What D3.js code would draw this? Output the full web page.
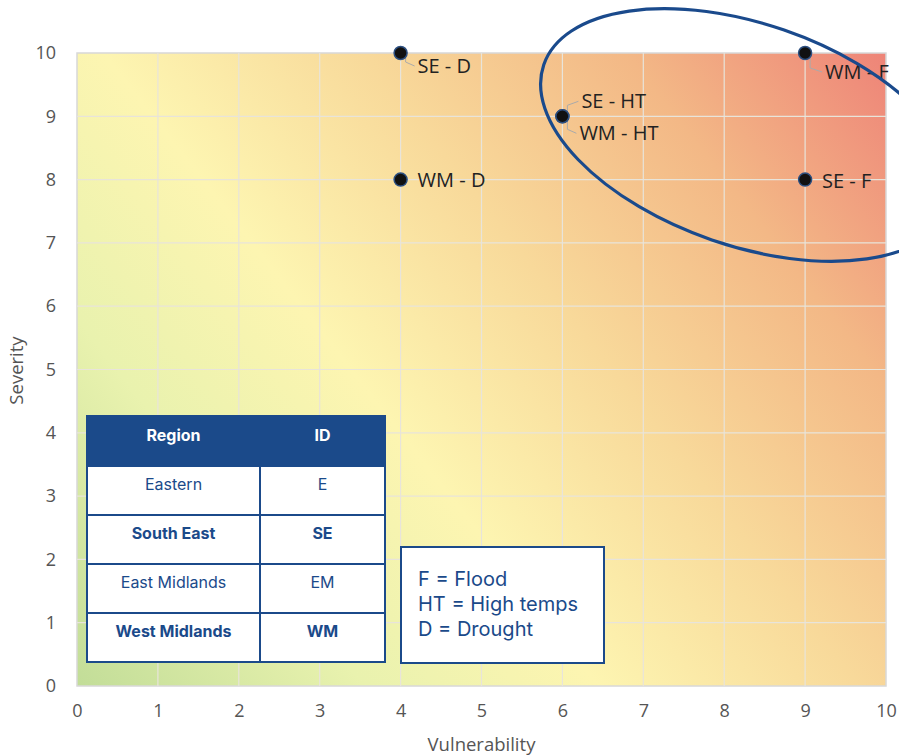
<!DOCTYPE html>
<html>
<head>
<meta charset="utf-8">
<script src="https://cdn.jsdelivr.net/npm/d3@7"></script>
<style>
  body { margin: 0; background: #fff; }
  text { font-family: "Open Sans", sans-serif; }
</style>
</head>
<body>
<div id="chart"></div>
<script>
// data
var pointIds = ["SE - D", "WM - D", "SE - HT", "WM - HT", "WM - F", "SE - F"];
var vulnerability = [4, 4, 6, 6, 9, 9];
var severity = [10, 8, 9, 9, 10, 8];
var xTicks = [0, 1, 2, 3, 4, 5, 6, 7, 8, 9, 10];
var yTicks = [0, 1, 2, 3, 4, 5, 6, 7, 8, 9, 10];
var regionNames = ["Eastern", "South East", "East Midlands", "West Midlands"];
var regionIds = ["E", "SE", "EM", "WM"];
var regionBold = [false, true, false, true];
var keyLines = ["F = Flood", "HT = High temps", "D = Drought"];

var W = 899, H = 756;
var margin = { top: 53, right: 13, bottom: 70, left: 77 };
var width = W - margin.left - margin.right;
var height = H - margin.top - margin.bottom;
var navy = "#1b4a8a";

var svg = d3.select("#chart").append("svg")
    .attr("width", W).attr("height", H);

var x = d3.scaleLinear().domain([0, 10]).range([0, width]);
var y = d3.scaleLinear().domain([0, 10]).range([height, 0]);

var defs = svg.append("defs");
var grad = defs.append("linearGradient")
    .attr("id", "bg")
    .attr("gradientUnits", "userSpaceOnUse")
    .attr("x1", 0).attr("y1", height)
    .attr("x2", width).attr("y2", 0);
[[0, "#c2dd98"], [0.22, "#e9f2ae"], [0.4, "#fdf5b1"], [0.6, "#f8d99a"], [0.8, "#f3b886"], [1, "#ee8478"]]
    .forEach(function (s) { grad.append("stop").attr("offset", s[0]).attr("stop-color", s[1]); });

var g = svg.append("g")
    .attr("transform", "translate(" + margin.left + "," + margin.top + ")");

g.append("rect")
    .attr("width", width).attr("height", height)
    .attr("fill", "url(#bg)")
    .attr("stroke", "#d8d8d8").attr("stroke-width", 1.5);

// grid
g.selectAll(".gx").data(xTicks.slice(1, -1)).enter().append("line")
    .attr("x1", function (d) { return x(d); }).attr("x2", function (d) { return x(d); })
    .attr("y1", 0).attr("y2", height)
    .attr("stroke", "#e8e4da").attr("stroke-width", 1.2);
g.selectAll(".gy").data(yTicks.slice(1, -1)).enter().append("line")
    .attr("y1", function (d) { return y(d); }).attr("y2", function (d) { return y(d); })
    .attr("x1", 0).attr("x2", width)
    .attr("stroke", "#e8e4da").attr("stroke-width", 1.2);

// axes (labels only)
var xAxis = g.append("g")
    .attr("transform", "translate(0," + height + ")")
    .call(d3.axisBottom(x).tickValues(xTicks).tickSize(0).tickPadding(18));
var yAxis = g.append("g")
    .call(d3.axisLeft(y).tickValues(yTicks).tickSize(0).tickPadding(21));
[xAxis, yAxis].forEach(function (a) {
    a.select(".domain").remove();
    a.selectAll("text").attr("fill", "#555").style("font-size", "18px")
        .style("font-family", "'Open Sans', sans-serif");
});

svg.append("text")
    .attr("x", margin.left + width / 2).attr("y", 751)
    .attr("text-anchor", "middle").attr("fill", "#555")
    .style("font-size", "18.5px").text("Vulnerability");
svg.append("text")
    .attr("transform", "translate(23," + (margin.top + height / 2 + 1) + ") rotate(-90)")
    .attr("text-anchor", "middle").attr("fill", "#555")
    .style("font-size", "18.5px").text("Severity");

// labels with leader lines
var labelOff = [[17, 13, true], [17, 0, false], [19, -15, true], [17, 17, true], [20, 19, true], [17, 1, false]];
pointIds.forEach(function (id, i) {
    var px = x(vulnerability[i]), py = y(severity[i]);
    var o = labelOff[i];
    if (o[2]) {
        var sy = o[1] < 0 ? -1 : 1;
        g.append("path")
            .attr("d", "M" + px + "," + py + " L" + (px + 5) + "," + (py + sy * 5) +
                " L" + (px + 5) + "," + (py + o[1] - sy * 4) + " L" + (px + o[0] - 3) + "," + (py + o[1]))
            .attr("fill", "none").attr("stroke", "#aaa").attr("stroke-width", 1);
    }
    g.append("text")
        .attr("x", px + o[0]).attr("y", py + o[1])
        .attr("dy", "0.35em").attr("fill", "#222")
        .style("font-size", "20px").text(id);
});

g.selectAll(".pt").data(pointIds).enter().append("circle")
    .attr("cx", function (d, i) { return x(vulnerability[i]); })
    .attr("cy", function (d, i) { return y(severity[i]); })
    .attr("r", 6.5)
    .attr("fill", "#111")
    .attr("stroke", "#2c4f80").attr("stroke-width", 1.5);

// highlight ellipse
svg.append("ellipse")
    .attr("cx", 0).attr("cy", 0).attr("rx", 216).attr("ry", 111)
    .attr("transform", "translate(748,135) rotate(19)")
    .attr("fill", "none").attr("stroke", "#1a4a8c").attr("stroke-width", 3.2);

// region table
var tx = 87, ty = 416, colW = [173, 125], headH = 50, rowH = 49;
var tFont = "Inter, 'Open Sans', sans-serif";
var table = svg.append("g");
table.append("rect")
    .attr("x", tx).attr("y", ty).attr("width", colW[0] + colW[1]).attr("height", headH)
    .attr("fill", navy);
table.append("text").attr("x", tx + colW[0] / 2).attr("y", ty + 19)
    .attr("dy", "0.35em").attr("text-anchor", "middle").attr("fill", "#fff")
    .style("font-family", tFont)
    .style("font-size", "16px").style("font-weight", "bold").text("Region");
table.append("text").attr("x", tx + colW[0] + colW[1] / 2).attr("y", ty + 19)
    .attr("dy", "0.35em").attr("text-anchor", "middle").attr("fill", "#fff")
    .style("font-family", tFont)
    .style("font-size", "16px").style("font-weight", "bold").text("ID");
regionNames.forEach(function (name, i) {
    var ry = ty + headH + i * rowH;
    [name, regionIds[i]].forEach(function (t, c) {
        var cx = tx + (c === 0 ? 0 : colW[0]);
        table.append("rect")
            .attr("x", cx).attr("y", ry).attr("width", colW[c]).attr("height", rowH)
            .attr("fill", "#fff").attr("stroke", navy).attr("stroke-width", 2);
        table.append("text")
            .attr("x", cx + colW[c] / 2).attr("y", ry + 18)
            .attr("dy", "0.35em").attr("text-anchor", "middle").attr("fill", navy)
            .style("font-family", tFont)
            .style("font-size", "16px")
            .style("font-weight", regionBold[i] ? "bold" : "normal")
            .text(t);
    });
});
table.append("rect")
    .attr("x", tx).attr("y", ty).attr("width", colW[0] + colW[1]).attr("height", headH + 4 * rowH)
    .attr("fill", "none").attr("stroke", navy).attr("stroke-width", 2);

// key box
var key = svg.append("g");
key.append("rect")
    .attr("x", 401).attr("y", 547).attr("width", 203).attr("height", 116)
    .attr("fill", "#fff").attr("stroke", navy).attr("stroke-width", 2);
keyLines.forEach(function (t, i) {
    key.append("text")
        .attr("x", 418).attr("y", 579 + i * 25)
        .attr("dy", "0.35em").attr("fill", navy)
        .style("font-family", tFont)
        .style("font-size", "20px").text(t);
});
</script>
</body>
</html>
